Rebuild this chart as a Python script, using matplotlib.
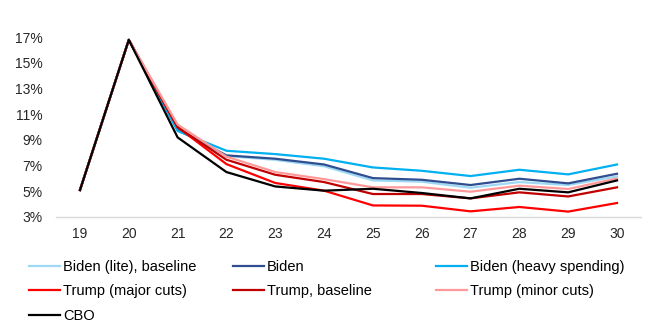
import matplotlib
matplotlib.use("Agg")
import matplotlib.pyplot as plt

years = [19, 20, 21, 22, 23, 24, 25, 26, 27, 28, 29, 30]
year_labels = [str(y) for y in years]

biden_lite = [5.1, 16.8, 9.9, 7.75, 7.45, 6.95, 5.85, 5.75, 5.28, 5.72, 5.49, 6.16]
biden = [5.1, 16.8, 9.8, 7.8, 7.54, 7.09, 6.03, 5.9, 5.49, 5.98, 5.62, 6.37]
biden_heavy = [5.1, 16.8, 9.7, 8.16, 7.9, 7.54, 6.86, 6.6, 6.19, 6.68, 6.32, 7.09]
trump_major = [5.1, 16.8, 10.0, 7.12, 5.65, 5.05, 3.9, 3.88, 3.44, 3.78, 3.42, 4.09]
trump_base = [5.1, 16.8, 10.0, 7.46, 6.29, 5.72, 4.79, 4.79, 4.45, 4.92, 4.6, 5.31]
trump_minor = [5.1, 16.8, 10.2, 7.7, 6.5, 5.95, 5.31, 5.31, 4.97, 5.44, 5.18, 6.0]
cbo = [5.1, 16.8, 9.2, 6.5, 5.38, 5.05, 5.2, 4.87, 4.45, 5.2, 4.92, 5.85]

yticks = [3, 5, 7, 9, 11, 13, 15, 17]

series = [
    ("Biden (lite), baseline", biden_lite, "#9DD8F5"),
    ("Biden", biden, "#2F4D8F"),
    ("Biden (heavy spending)", biden_heavy, "#00B0F0"),
    ("Trump (major cuts)", trump_major, "#FF0000"),
    ("Trump, baseline", trump_base, "#C00000"),
    ("Trump (minor cuts)", trump_minor, "#FF9999"),
    ("CBO", cbo, "#000000"),
]

plt.rcParams['font.family'] = ['Liberation Sans', 'DejaVu Sans']

fig = plt.figure(figsize=(6.5, 3.32), dpi=100)
ax = fig.add_axes([0.0855, 0.3464, 0.9013, 0.5413])

handles = []
for name, vals, col in series:
    h, = ax.plot(years, vals, color=col, lw=1.6, label=name)
    handles.append(h)

ax.set_xlim(18.5, 30.5)
ax.set_ylim(3, 17)
ax.set_xticks(years)
ax.set_xticklabels(year_labels)
ax.set_yticks(yticks)
ax.set_yticklabels([f"{v}%" for v in yticks])
ax.tick_params(axis='both', length=0, labelsize=10, colors='#262626')
ax.tick_params(axis='x', pad=7)
ax.tick_params(axis='y', pad=9.5)
for s in ['top', 'right', 'left']:
    ax.spines[s].set_visible(False)
ax.spines['bottom'].set_color('#D9D9D9')
ax.spines['bottom'].set_linewidth(1.0)

cols = [[0, 3, 6], [1, 4], [2, 5]]
xs = [29 / 650, 233 / 650, 436 / 650]
fs = 10.5
for c, x in zip(cols, xs):
    leg = fig.legend(handles=[handles[i] for i in c], loc='upper left',
                     bbox_to_anchor=(x, 1 - 260 / 332), frameon=False,
                     borderpad=0, borderaxespad=0, handlelength=2.12,
                     handletextpad=0.2, labelspacing=0.72, fontsize=fs)
    for t in leg.get_texts():
        t.set_color('#000000')

fig.savefig("out.png", dpi=100)
